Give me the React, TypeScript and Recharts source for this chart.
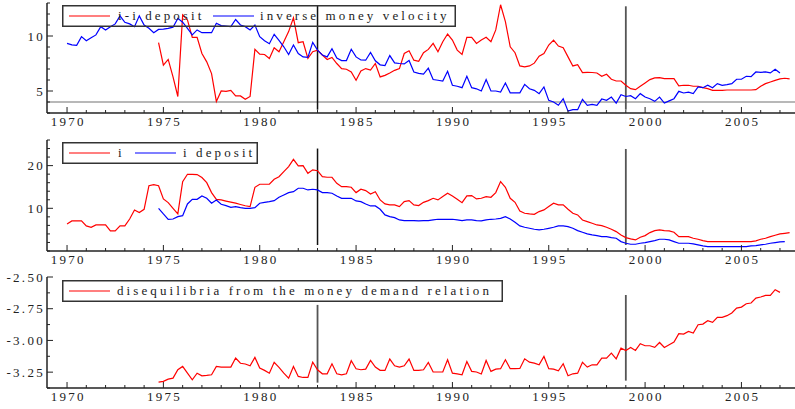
import React from 'react';
import { LineChart, Line, XAxis, YAxis, ReferenceLine, Legend } from 'recharts';

// quarterly observations, index k -> year 1970 + k/4
const START_YEAR = 1970;
const N_QUARTERS = 151;

// panel 1: inverse money velocity (k = 0..148)
const invMoneyVelocity = [
  9.33, 9.2, 9.15, 9.94, 9.57, 9.85, 10.1, 10.85, 10.55, 10.85, 11.1, 11.83, 11.25, 11.1, 10.85, 11.83,
  11.0, 10.7, 10.3, 10.6, 10.62, 10.7, 10.8, 11.6, 11.25, 10.7, 10.1, 10.55, 10.3, 10.3, 10.3, 11.16,
  10.94, 10.9, 10.85, 11.5, 11.0, 10.85, 10.55, 11.0, 9.94, 9.57, 9.3, 10.15, 9.6, 9.02, 8.32, 9.18,
  8.4, 8.1, 8.05, 9.42, 8.72, 8.27, 8.1, 8.85, 8.0, 7.77, 7.77, 8.8, 8.1, 7.82, 7.8, 8.5,
  7.75, 7.38, 7.32, 8.22, 7.55, 7.5, 7.46, 7.77, 6.73, 6.6, 6.54, 7.07, 6.04, 5.98, 5.9, 6.8,
  5.52, 5.43, 5.3, 6.34, 5.3, 5.2, 5.0, 6.04, 5.0, 5.0, 4.9, 5.73, 4.83, 4.83, 4.83, 5.6,
  5.2, 5.06, 4.76, 5.37, 4.15, 4.0, 3.7, 4.3, 3.17, 3.3, 3.3, 4.24, 3.7, 3.79, 3.7, 4.27,
  4.15, 4.45, 3.9, 4.67, 4.5, 4.58, 4.3, 4.76, 4.45, 4.3, 4.06, 4.45, 3.9, 4.1, 4.3, 4.97,
  4.82, 4.9, 4.76, 5.37, 5.3, 5.52, 5.3, 5.67, 5.52, 5.58, 5.67, 6.07, 6.07, 6.34, 6.3, 6.73,
  6.7, 6.73, 6.64, 6.97, 6.64,
];
const INV_VEL_START = 0;

// panel 1: i - i deposit (k = 19..150)
const spread = [
  9.39, 7.35, 7.87, 6.28, 4.5, 11.92, 11.46, 9.88, 9.88, 8.41, 7.65, 6.58, 4.05, 5.0, 4.97, 5.06,
  4.55, 4.55, 4.24, 4.5, 8.78, 8.35, 8.32, 7.96, 8.93, 8.57, 9.48, 10.4, 11.65, 9.39, 9.48, 7.96,
  8.57, 8.72, 8.27, 7.87, 8.05, 7.5, 7.04, 6.98, 6.73, 5.97, 6.82, 7.04, 6.9, 7.5, 6.28, 6.42,
  6.64, 6.88, 7.04, 8.41, 8.66, 7.8, 7.7, 8.48, 8.78, 9.33, 8.57, 9.48, 10.18, 9.63, 8.72, 8.32,
  9.88, 9.88, 9.33, 9.63, 9.88, 9.48, 10.55, 12.84, 11.31, 9.02, 8.48, 7.28, 7.19, 7.28, 7.53, 8.17,
  8.41, 9.18, 9.63, 9.09, 8.93, 8.1, 7.28, 7.4, 6.68, 6.7, 6.68, 6.64, 6.34, 6.52, 6.07, 5.91,
  5.91, 5.52, 5.21, 5.12, 5.43, 5.73, 6.04, 6.19, 6.22, 6.13, 6.13, 6.13, 5.46, 5.52, 5.52, 5.43,
  5.43, 5.3, 5.21, 5.06, 5.06, 5.06, 5.09, 5.09, 5.09, 5.09, 5.09, 5.09, 5.12, 5.43, 5.67, 5.82,
  5.97, 6.1, 6.16, 6.1,
];
const SPREAD_START = 19;

// panel 2: i (k = 0..150)
const iRate = [
  6.34, 7.04, 7.04, 7.04, 5.87, 5.56, 6.1, 6.1, 6.1, 4.7, 4.7, 5.87, 5.87, 7.5, 9.6, 9.0,
  9.77, 15.3, 15.55, 15.3, 12.2, 11.33, 10.0, 8.68, 16.25, 17.97, 17.97, 17.9, 17.2, 16.0, 13.68, 12.1,
  11.96, 11.7, 11.45, 11.2, 10.9, 10.6, 10.4, 14.93, 15.63, 15.63, 15.63, 16.8, 17.4, 18.6, 19.77, 21.48,
  19.92, 20.0, 18.2, 19.0, 18.8, 17.4, 17.27, 17.27, 15.86, 15.08, 15.08, 14.93, 13.68, 14.46, 14.15, 13.36,
  13.9, 11.96, 11.02, 10.8, 10.8, 10.4, 11.57, 11.8, 10.8, 10.63, 11.4, 11.8, 12.35, 11.96, 12.74, 13.52,
  12.9, 12.1, 11.33, 12.9, 12.97, 12.2, 12.35, 12.74, 12.58, 13.68, 16.25, 14.93, 12.35, 11.4, 9.38, 8.84,
  8.68, 8.6, 9.23, 9.62, 10.4, 11.18, 10.8, 10.8, 9.77, 8.84, 8.45, 7.27, 6.89, 6.5, 6.1, 5.95,
  5.56, 5.09, 4.54, 3.76, 3.14, 2.83, 2.59, 3.22, 3.61, 4.31, 4.78, 4.93, 4.78, 4.7, 4.39, 3.37,
  3.37, 3.37, 2.98, 2.75, 2.44, 2.2, 2.2, 2.2, 2.2, 2.2, 2.2, 2.2, 2.2, 2.2, 2.2, 2.36,
  2.75, 2.98, 3.37, 3.68, 4.0, 4.15, 4.31,
];
const I_START = 0;

// panel 2: i deposit (k = 19..150)
const iDeposit = [
  10.0, 8.68, 7.43, 7.5, 8.06, 8.29, 11.02, 12.1, 12.1, 12.9, 12.35, 11.18, 11.96, 10.94, 10.63, 10.24,
  10.4, 10.16, 10.0, 10.0, 10.16, 11.18, 11.4, 11.57, 11.8, 12.58, 13.13, 13.68, 13.9, 14.7, 14.7, 14.3,
  14.46, 14.3, 13.68, 13.68, 13.52, 12.9, 12.35, 12.35, 12.35, 11.73, 11.57, 11.02, 10.55, 10.55, 9.77, 8.45,
  8.06, 7.82, 7.27, 7.12, 7.12, 7.12, 7.04, 7.12, 7.12, 7.27, 7.43, 7.43, 7.43, 7.43, 7.27, 7.12,
  7.27, 7.27, 7.12, 7.04, 7.27, 7.43, 7.5, 7.66, 8.06, 7.5, 6.73, 5.87, 5.56, 5.32, 5.09, 4.93,
  5.09, 5.32, 5.56, 5.87, 5.87, 5.71, 5.32, 4.78, 4.39, 4.0, 3.76, 3.61, 3.37, 3.37, 3.14, 2.98,
  2.2, 1.81, 1.58, 1.58, 1.81, 1.97, 2.2, 2.44, 2.75, 2.75, 2.59, 2.2, 1.81, 1.81, 1.81, 1.66,
  1.42, 1.19, 1.03, 1.03, 1.03, 1.03, 1.03, 1.03, 1.03, 1.03, 1.03, 1.19, 1.27, 1.42, 1.58, 1.81,
  1.97, 2.12, 2.2,
];
const IDEP_START = 19;

// panel 3: disequilibria from the money demand relation (k = 19..148)
const disequilibria = [
  -3.328, -3.323, -3.305, -3.297, -3.231, -3.205, -3.258, -3.31, -3.258, -3.279, -3.276, -3.271, -3.205, -3.21, -3.21, -3.21,
  -3.139, -3.18, -3.186, -3.2, -3.134, -3.218, -3.236, -3.258, -3.173, -3.213, -3.258, -3.297, -3.205, -3.284, -3.292, -3.292,
  -3.171, -3.231, -3.263, -3.263, -3.184, -3.263, -3.271, -3.263, -3.16, -3.223, -3.231, -3.226, -3.158, -3.21, -3.236, -3.236,
  -3.147, -3.2, -3.21, -3.2, -3.147, -3.236, -3.236, -3.231, -3.173, -3.249, -3.249, -3.249, -3.152, -3.258, -3.263, -3.271,
  -3.166, -3.244, -3.249, -3.265, -3.158, -3.244, -3.226, -3.223, -3.152, -3.223, -3.223, -3.221, -3.145, -3.171, -3.179, -3.192,
  -3.126, -3.223, -3.226, -3.239, -3.184, -3.279, -3.263, -3.258, -3.173, -3.21, -3.192, -3.192, -3.139, -3.139, -3.1, -3.145,
  -3.061, -3.079, -3.055, -3.079, -3.026, -3.042, -3.042, -3.055, -3.016, -3.055, -3.034, -3.013, -2.947, -2.95, -2.929, -2.942,
  -2.876, -2.871, -2.845, -2.858, -2.818, -2.818, -2.805, -2.784, -2.745, -2.737, -2.711, -2.705, -2.666, -2.658, -2.645, -2.645,
  -2.6, -2.621,
];
const DISEQ_START = 19;

const breakYears = [1983, 1999];
const yearTicks = Array.from({ length: 38 }, (_, i) => 1970 + i);
const ticks1 = [3, 4, 5, 6, 7, 8, 9, 10, 11, 12, 13];
const labels1 = [5, 10];
const ticks2 = [0, 2, 4, 6, 8, 10, 12, 14, 16, 18, 20, 22, 24, 26];
const labels2 = [10, 20];
const ticks3 = [-3.375, -3.25, -3.125, -3.0, -2.875, -2.75, -2.625, -2.5];
const labels3 = [-3.25, -3.0, -2.75, -2.5];

const pick = (arr: number[], start: number, k: number) => {
  const j = k - start;
  return j >= 0 && j < arr.length ? arr[j] : undefined;
};

const rows = Array.from({ length: N_QUARTERS }, (_, k) => ({
  t: START_YEAR + k / 4,
  ivel: pick(invMoneyVelocity, INV_VEL_START, k),
  spread: pick(spread, SPREAD_START, k),
  i: pick(iRate, I_START, k),
  idep: pick(iDeposit, IDEP_START, k),
  diseq: pick(disequilibria, DISEQ_START, k),
}));

const FONT = '"Liberation Serif", "Times New Roman", serif';
const X_DOMAIN: [number, number] = [1968.96, 2007.78];

const XTick = (props: any) => {
  const { x, y, payload } = props;
  const v = payload.value;
  const major = v % 5 === 0;
  return (
    <g>
      <line x1={x} x2={x} y1={y} y2={y - (major ? 6 : 3)} stroke="#222" strokeWidth={1} />
      {major && (
        <text x={x + 1.2} y={y + 12.5} textAnchor="middle" fontFamily={FONT} fontSize={13} letterSpacing={2.3} fill="#222">
          {v}
        </text>
      )}
    </g>
  );
};

const makeYTick = (labels: number[], fmt: (v: number) => string) => (props: any) => {
  const { x, y, payload } = props;
  const v = payload.value;
  const major = labels.some((l) => Math.abs(l - v) < 1e-9);
  return (
    <g>
      <line x1={x} x2={x + (major ? 6 : 3)} y1={y} y2={y} stroke="#222" strokeWidth={1} />
      {major && (
        <text x={x - 2} y={y + 4.5} textAnchor="end" fontFamily={FONT} fontSize={13} letterSpacing={2.3} fill="#222">
          {fmt(v)}
        </text>
      )}
    </g>
  );
};

type LegendItem = { color: string; label: string; lx: number; tx: number };
const LegendBox = ({ w, h, items }: { w: number; h: number; items: LegendItem[] }) => (
  <svg width={w} height={h} style={{ display: 'block', overflow: 'visible' }}>
    <rect x={0.75} y={0.75} width={w - 1.5} height={h - 1.5} fill="none" stroke="#333" strokeWidth={1.5} />
    {items.map((it) => (
      <g key={it.label}>
        <line x1={it.lx} x2={it.lx + 41} y1={h / 2} y2={h / 2} stroke={it.color} strokeWidth={1.2} />
        <text x={it.tx} y={h / 2 + 4} fontFamily={FONT} fontSize={13} letterSpacing={3.1} fill="#222">
          {it.label}
        </text>
      </g>
    ))}
  </svg>
);

const axisLine = { stroke: '#222', strokeWidth: 1.5 };

const Panel = ({
  top, height, marginTop, xAxisHeight, domain, yTicks, yLabels, fmt, legend, children,
}: any) => (
  <div style={{ position: 'absolute', left: 0, top }}>
    <LineChart width={795} height={height} data={rows} margin={{ top: marginTop, right: 0, left: 0, bottom: 0 }}>
      <XAxis
        dataKey="t"
        type="number"
        domain={X_DOMAIN}
        allowDataOverflow
        ticks={yearTicks}
        interval={0}
        height={xAxisHeight}
        tickSize={0}
        tickMargin={0}
        tickLine={false}
        axisLine={axisLine}
        tick={<XTick />}
      />
      <YAxis
        type="number"
        domain={domain}
        allowDataOverflow
        ticks={yTicks}
        interval={0}
        width={47}
        tickSize={0}
        tickMargin={0}
        tickLine={false}
        axisLine={axisLine}
        tick={makeYTick(yLabels, fmt)}
      />
      {legend}
      {children}
    </LineChart>
  </div>
);

export default function App() {
  return (
    <div style={{ position: 'absolute', left: 0, top: 0, width: 795, height: 409, background: '#fff' }}>
      <Panel top={0} height={135} marginTop={3} xAxisHeight={22} domain={[3, 13]} yTicks={ticks1} yLabels={labels1}
        fmt={(v: number) => String(v)}
        legend={
          <Legend layout="horizontal" verticalAlign="middle" align="center"
            wrapperStyle={{ left: 62, top: 5, width: 394, height: 22 }}
            content={() => (
              <LegendBox w={394} h={22} items={[
                { color: '#ff0000', label: 'i-i deposit', lx: 7, tx: 56 },
                { color: '#0000ff', label: 'inverse money velocity', lx: 151, tx: 198 },
              ]} />
            )} />
        }>
        <ReferenceLine y={4} stroke="#b8b8b8" strokeWidth={2} />
        <ReferenceLine segment={[{ x: breakYears[0], y: 12.8 }, { x: breakYears[0], y: 3.3 }]} stroke="#111" strokeWidth={1.5} />
        <ReferenceLine segment={[{ x: breakYears[1], y: 12.7 }, { x: breakYears[1], y: 3.3 }]} stroke="#555" strokeWidth={1.8} />
        <Line dataKey="spread" stroke="#ff0000" strokeWidth={1.2} dot={false} isAnimationActive={false} />
        <Line dataKey="ivel" stroke="#0000ff" strokeWidth={1.2} dot={false} isAnimationActive={false} />
      </Panel>
      <Panel top={135} height={138} marginTop={5} xAxisHeight={22} domain={[0, 26]} yTicks={ticks2} yLabels={labels2}
        fmt={(v: number) => String(v)}
        legend={
          <Legend layout="horizontal" verticalAlign="middle" align="center"
            wrapperStyle={{ left: 62, top: 7, width: 196, height: 22 }}
            content={() => (
              <LegendBox w={196} h={22} items={[
                { color: '#ff0000', label: 'i', lx: 7, tx: 56 },
                { color: '#0000ff', label: 'i deposit', lx: 73, tx: 121 },
              ]} />
            )} />
        }>
        <ReferenceLine segment={[{ x: breakYears[0], y: 24.0 }, { x: breakYears[0], y: 1.4 }]} stroke="#111" strokeWidth={1.5} />
        <ReferenceLine segment={[{ x: breakYears[1], y: 23.9 }, { x: breakYears[1], y: 1.4 }]} stroke="#555" strokeWidth={1.8} />
        <Line dataKey="i" stroke="#ff0000" strokeWidth={1.2} dot={false} isAnimationActive={false} />
        <Line dataKey="idep" stroke="#0000ff" strokeWidth={1.2} dot={false} isAnimationActive={false} />
      </Panel>
      <Panel top={270} height={139} marginTop={7} xAxisHeight={21} domain={[-3.375, -2.5]} yTicks={ticks3} yLabels={labels3}
        fmt={(v: number) => v.toFixed(2)}
        legend={
          <Legend layout="horizontal" verticalAlign="middle" align="center"
            wrapperStyle={{ left: 62, top: 10, width: 441, height: 22 }}
            content={() => (
              <LegendBox w={441} h={22} items={[
                { color: '#ff0000', label: 'disequilibria from the money demand relation', lx: 7, tx: 55 },
              ]} />
            )} />
        }>
        <ReferenceLine segment={[{ x: breakYears[0], y: -2.72 }, { x: breakYears[0], y: -3.333 }]} stroke="#555" strokeWidth={1.8} />
        <ReferenceLine segment={[{ x: breakYears[1], y: -2.642 }, { x: breakYears[1], y: -3.317 }]} stroke="#555" strokeWidth={1.8} />
        <Line dataKey="diseq" stroke="#ff0000" strokeWidth={1.2} dot={false} isAnimationActive={false} />
      </Panel>
    </div>
  );
}
